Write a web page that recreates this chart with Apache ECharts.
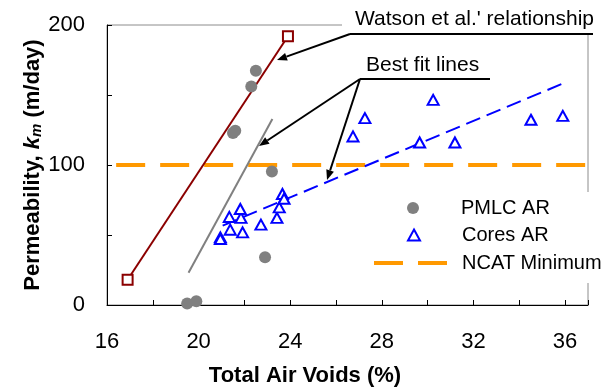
<!DOCTYPE html>
<html>
<head>
<meta charset="utf-8">
<script src="https://cdn.jsdelivr.net/npm/echarts@6/dist/echarts.min.js"></script>
<style>
  html, body { margin: 0; padding: 0; background: #fff; }
  #main { width: 603px; height: 392px; }
</style>
</head>
<body>
<div id="main"></div>
<script>
// 数据: [总空隙率 %, 渗透系数 m/day]
const pmlcAR = [
  [19.5, 1.1], [19.9, 2.7], [21.5, 122.8], [21.6, 124.4],
  [22.3, 156], [22.5, 167.4], [22.9, 34.1], [23.2, 95.4]
];
const coresAR = [
  [20.95, 48.3], [20.95, 47.1], [21.38, 53.8], [21.92, 51.9], [21.34, 62.9],
  [21.85, 62.2], [21.82, 68.6], [22.72, 57.4], [23.42, 62.2], [23.52, 69.7],
  [23.66, 79.3], [23.73, 75.9], [26.74, 120.4], [27.26, 133.5], [29.65, 116.1],
  [30.24, 146.5], [31.19, 116.1], [34.51, 132.3], [35.9, 135.1]
];
const ncatMin = [[16.4, 100], [37, 100]];
const watsonLine = [[16.9, 18], [23.9, 192]];
const pmlcFit = [[19.56, 23], [23.22, 132.8]];
const coresFit = [[21.05, 56.7], [35.86, 157.9]];
const xLabels = [16, 20, 24, 28, 32, 36];
const yLabels = [0, 100, 200];

const FONT = '"Liberation Sans", Arial, sans-serif';
const myChart = echarts.init(document.getElementById('main'));

// 箭头 (像素坐标)
function arrow(x1, y1, x2, y2) {
  const dx = x2 - x1, dy = y2 - y1;
  const len = Math.sqrt(dx * dx + dy * dy);
  const ux = dx / len, uy = dy / len;
  const hl = 10, hw = 4;
  const bx = x2 - ux * hl, by = y2 - uy * hl;
  return [
    { type: 'line', z: 30, shape: { x1: x1, y1: y1, x2: bx, y2: by },
      style: { stroke: '#000', lineWidth: 2 } },
    { type: 'polygon', z: 30,
      shape: { points: [[x2, y2], [bx - uy * hw, by + ux * hw], [bx + uy * hw, by - ux * hw]] },
      style: { fill: '#000' } }
  ];
}

const legendBase = {
  orient: 'vertical',
  padding: 0,
  z: 40,
  selectedMode: false,
  textStyle: { fontFamily: FONT, fontSize: 20, color: '#000' }
};

const option = {
  backgroundColor: '#fff',
  animation: false,
  grid: {
    left: 107, right: 15, top: 25, bottom: 87,
    show: true, borderColor: '#8c8c8c', borderWidth: 1,
    outerBoundsMode: 'none'
  },
  legend: [
    Object.assign({}, legendBase, {
      data: ['PMLC AR'], left: 407, top: 198, itemWidth: 12, itemHeight: 12,
      textStyle: Object.assign({}, legendBase.textStyle, { padding: [0, 0, 0, 37] })
    }),
    Object.assign({}, legendBase, {
      data: ['Cores AR'], left: 407, top: 225, itemWidth: 12, itemHeight: 11,
      textStyle: Object.assign({}, legendBase.textStyle, { padding: [0, 0, 0, 37] })
    }),
    Object.assign({}, legendBase, {
      // 虚线图例: 两段短线
      data: [{ name: 'NCAT Minimum', icon: 'path://M0,0H29V4H0Z M44,0H73V4H44Z' }],
      left: 374, top: 253, itemWidth: 73, itemHeight: 4,
      itemStyle: { color: '#ff9900' },
      textStyle: Object.assign({}, legendBase.textStyle, { padding: [0, 0, 0, 10] })
    })
  ],
  xAxis: {
    type: 'value',
    min: 16, max: 37, interval: 2,
    name: 'Total Air Voids (%)',
    nameLocation: 'middle',
    nameGap: 60,
    nameMoveOverlap: false,
    nameTextStyle: { fontFamily: FONT, fontSize: 22, fontWeight: 'bold', color: '#000', padding: [0, 85, 0, 0] },
    axisLine: { lineStyle: { color: '#000', width: 1 } },
    axisTick: { inside: true, length: 5, lineStyle: { color: '#000' } },
    axisLabel: {
      margin: 26, fontFamily: FONT, fontSize: 22, color: '#000',
      formatter: v => (xLabels.includes(v) ? String(v) : '')
    },
    splitLine: { show: false }
  },
  yAxis: {
    type: 'value',
    min: 0, max: 200, interval: 50,
    name: 'Permeability, {k|k}{m|m} (m/day)',
    nameLocation: 'middle',
    nameGap: 63,
    nameMoveOverlap: false,
    nameTextStyle: {
      fontFamily: FONT, fontSize: 22, fontWeight: 'bold', color: '#000',
      rich: {
        k: { fontFamily: FONT, fontSize: 22, fontWeight: 'bold', fontStyle: 'italic', color: '#000' },
        m: { fontFamily: FONT, fontSize: 15, fontWeight: 'bold', fontStyle: 'italic', color: '#000',
             verticalAlign: 'bottom', padding: [8, 0, 0, 0] }
      }
    },
    axisLine: { show: true, lineStyle: { color: '#000', width: 1 } },
    axisTick: { show: true, inside: true, length: 5, lineStyle: { color: '#000' } },
    axisLabel: {
      margin: 22, fontFamily: FONT, fontSize: 22, color: '#000',
      formatter: v => (yLabels.includes(v) ? String(v) : '')
    },
    splitLine: { show: false }
  },
  series: [
    {
      name: 'NCAT Minimum', type: 'line', data: ncatMin,
      symbol: 'none', z: 2,
      color: '#ff9900',
      lineStyle: { color: '#ff9900', width: 4, type: [29, 15] }
    },
    {
      name: 'Watson', type: 'line', data: watsonLine,
      symbol: 'rect', symbolSize: 10, z: 3,
      lineStyle: { color: '#8b0000', width: 2 },
      itemStyle: { color: '#fff', borderColor: '#8b0000', borderWidth: 2 }
    },
    {
      name: 'PMLC fit', type: 'line', data: pmlcFit,
      symbol: 'none', z: 3,
      lineStyle: { color: '#808080', width: 2 }
    },
    {
      name: 'Cores fit', type: 'line', data: coresFit,
      symbol: 'none', z: 3,
      lineStyle: { color: '#0000ff', width: 2, type: [15, 7] }
    },
    {
      name: 'PMLC AR', type: 'scatter', data: pmlcAR,
      symbol: 'circle', symbolSize: 12, z: 4,
      itemStyle: { color: '#808080', opacity: 1 }
    },
    {
      name: 'Cores AR', type: 'scatter', data: coresAR,
      symbol: 'triangle', symbolSize: [11, 10], z: 4,
      itemStyle: { color: '#fff', borderColor: '#0000ff', borderWidth: 2, opacity: 1 }
    }
  ],
  graphic: [
    // 遮住边框的白底
    { type: 'rect', z: 10, shape: { x: 342, y: 0, width: 261, height: 34 }, style: { fill: '#fff' } },
    { type: 'rect', z: 10, shape: { x: 368, y: 192, width: 235, height: 91 }, style: { fill: '#fff' } },
    { type: 'text', z: 30, left: 355, top: 9,
      style: { text: "Watson et al.' relationship", fontFamily: FONT, fontSize: 21, fill: '#000' } },
    { type: 'line', z: 30, shape: { x1: 350, y1: 34, x2: 593, y2: 34 }, style: { stroke: '#000', lineWidth: 2 } },
    { type: 'text', z: 30, left: 366, top: 55,
      style: { text: 'Best fit lines', fontFamily: FONT, fontSize: 21, fill: '#000' } },
    { type: 'line', z: 30, shape: { x1: 360, y1: 79, x2: 490, y2: 79 }, style: { stroke: '#000', lineWidth: 2 } }
  ].concat(arrow(350, 34, 277, 60), arrow(360, 79, 259, 146), arrow(360, 79, 327, 180))
};

myChart.setOption(option);
</script>
</body>
</html>
